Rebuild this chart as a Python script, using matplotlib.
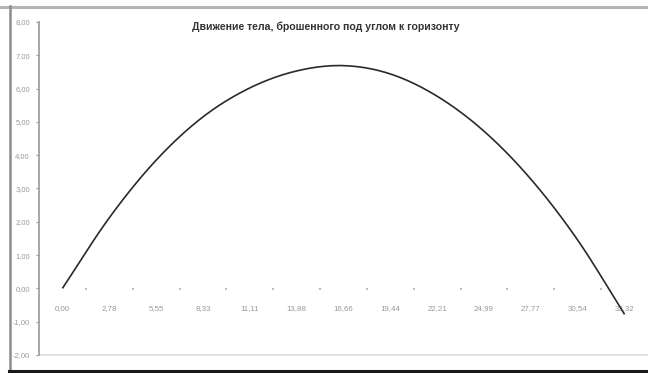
import numpy as np
import matplotlib
matplotlib.use("Agg")
import matplotlib.pyplot as plt
from matplotlib.lines import Line2D

title = "Движение тела, брошенного под углом к горизонту"
x_labels = ["0,00", "2,78", "5,55", "8,33", "11,11", "13,88", "16,66",
            "19,44", "22,21", "24,99", "27,77", "30,54", "33,32"]
y_values = [0.00, 2.12, 3.85, 5.15, 6.02, 6.53, 6.69,
            6.44, 5.77, 4.72, 3.28, 1.45, -0.78]
y_ticks = [-2, -1, 0, 1, 2, 3, 4, 5, 6, 7, 8]

plt.rcParams['font.family'] = ['Liberation Sans', 'DejaVu Sans']

W, H = 648, 373
fig = plt.figure(figsize=(W / 100, H / 100), dpi=100)
fig.patch.set_facecolor('white')

ax = fig.add_axes([39 / W, 18 / H, (W - 39) / W, (355 - 22) / H])
ax.set_facecolor('white')

idx = np.arange(len(y_values))
yv = np.array(y_values, dtype=float)

# smoothed line through the data points (Catmull-Rom, like Excel's smoothed line)
def smooth(xs, ys, n=20):
    px = np.concatenate([[2 * xs[0] - xs[1]], xs, [2 * xs[-1] - xs[-2]]])
    py = np.concatenate([[2 * ys[0] - ys[1]], ys, [2 * ys[-1] - ys[-2]]])
    ox, oy = [], []
    t = np.linspace(0, 1, n, endpoint=False)
    for i in range(1, len(px) - 2):
        for arr, out in ((px, ox), (py, oy)):
            p0, p1, p2, p3 = arr[i - 1], arr[i], arr[i + 1], arr[i + 2]
            out.extend(0.5 * ((2 * p1) + (-p0 + p2) * t
                              + (2 * p0 - 5 * p1 + 4 * p2 - p3) * t ** 2
                              + (-p0 + 3 * p1 - 3 * p2 + p3) * t ** 3))
    ox.append(xs[-1]); oy.append(ys[-1])
    return np.array(ox), np.array(oy)

sx, sy = smooth(idx.astype(float), yv)
ax.plot(sx, sy, color='#2a2a2a', lw=1.2, solid_capstyle='butt')

ax.set_xlim(-0.5, len(y_values) - 0.5)
ax.set_ylim(-2, 8)

# y axis
ax.set_yticks(y_ticks)
ax.set_yticklabels([f"{v:.2f}".replace('.', ',') for v in y_ticks])
ax.tick_params(axis='y', direction='out', length=2.5, width=0.8, color='#999999',
               labelsize=5.5, labelcolor='#9a9a9a', pad=4)
ax.spines['left'].set_color('#a0a0a0')
ax.spines['left'].set_linewidth(1.3)

# x axis at y = 0 (category axis, tick marks between categories)
ax.spines['bottom'].set_position(('data', 0))
ax.spines['bottom'].set_color('none')
ax.spines['top'].set_visible(False)
ax.spines['right'].set_visible(False)
ax.set_xticks(idx)
ax.set_xticklabels(x_labels)
ax.set_xticks(idx[:-1] + 0.5, minor=True)
ax.tick_params(axis='x', which='major', length=0, labelsize=5.7,
               labelcolor='#999999', pad=12)
ax.tick_params(axis='x', which='minor', direction='out', length=1.5, width=1.2,
               color='#b0b0b0')

# light bottom border of the plot area
ax.axhline(-2, color='#dedede', lw=1.2, clip_on=False)

fig.text(326 / W, 1 - 27 / H, title, ha='center', va='center',
         fontsize=7.6, color='#333333', fontweight='bold')

# outer frame lines
fig.add_artist(Line2D([0, 1], [1 - 7 / H, 1 - 7 / H], transform=fig.transFigure,
                      color='#b4b4b4', lw=2.2))
fig.add_artist(Line2D([10 / W, 10 / W], [0, 1 - 6 / H], transform=fig.transFigure,
                      color='#8c8c8c', lw=1.8))
fig.add_artist(Line2D([9 / W, 1], [1 - 371 / H, 1 - 371 / H], transform=fig.transFigure,
                      color='#1a1a1a', lw=2.2))

fig.savefig('out.png', dpi=100, facecolor='white')
